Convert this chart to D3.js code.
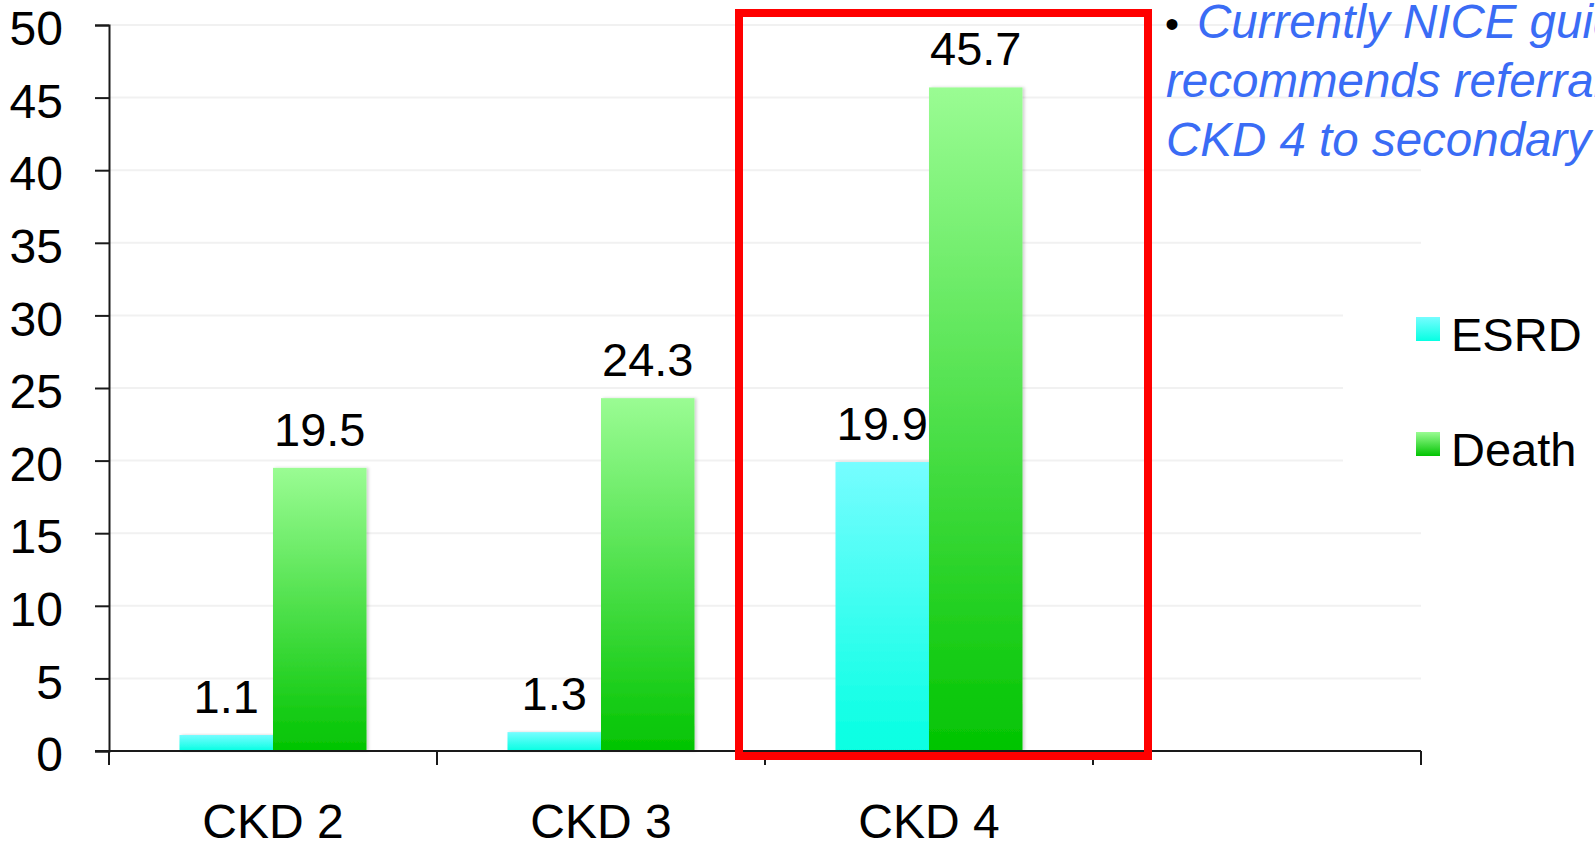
<!DOCTYPE html>
<html>
<head>
<meta charset="utf-8">
<script src="https://cdn.jsdelivr.net/npm/d3@7"></script>
<style>
  html, body { margin: 0; padding: 0; background: #ffffff; overflow: hidden; }
  svg { display: block; }
  text { font-family: "Liberation Sans", Arial, sans-serif; }
</style>
</head>
<body>
<svg id="chart" width="1595" height="845"></svg>
<script>
// ---- data ----
const categories = ["CKD 2", "CKD 3", "CKD 4", ""];
const seriesNames = ["ESRD", "Death"];
const esrdValues = [1.1, 1.3, 19.9];
const deathValues = [19.5, 24.3, 45.7];
const yTicks = [0, 5, 10, 15, 20, 25, 30, 35, 40, 45, 50];
const noteLines = ["Currently NICE guidance", "recommends referral of", "CKD 4 to secondary care"];
const highlightCategory = "CKD 4";

// ---- layout ----
const W = 1595, H = 845;
const plotLeft = 109, plotRight = 1421, plotTop = 25, plotBottom = 751;
const svg = d3.select("#chart");

const x = d3.scaleBand().domain(categories).range([plotLeft, plotRight]).paddingInner(0).paddingOuter(0);
const xs = d3.scaleBand().domain(seriesNames).range([0, x.bandwidth()]).paddingInner(0).paddingOuter(0.754);
const y = d3.scaleLinear().domain([0, 50]).range([plotBottom, plotTop]);

// gradients & shadow
const defs = svg.append("defs");
const grads = {
  ESRD: ["#76fdff", "#06ffe2"],
  Death: ["#9afc93", "#02c402"]
};
Object.entries(grads).forEach(([k, c]) => {
  const g = defs.append("linearGradient").attr("id", "g-" + k)
    .attr("x1", 0).attr("y1", 0).attr("x2", 0).attr("y2", 1);
  g.append("stop").attr("offset", "0%").attr("stop-color", c[0]);
  g.append("stop").attr("offset", "100%").attr("stop-color", c[1]);
});
const f = defs.append("filter").attr("id", "shadow").attr("x", "-10%").attr("y", "-10%").attr("width", "130%").attr("height", "120%");
f.append("feDropShadow").attr("dx", 2).attr("dy", 0).attr("stdDeviation", 1.5)
  .attr("flood-color", "#000").attr("flood-opacity", 0.18);

// gridlines
svg.append("g").selectAll("line").data(yTicks.filter(v => v > 0)).join("line")
  .attr("x1", plotLeft).attr("x2", plotRight)
  .attr("y1", d => y(d)).attr("y2", d => y(d))
  .attr("stroke", "#f1f1f1").attr("stroke-width", 2);

// legend background (covers gridlines)
const legendX = 1343;
svg.append("rect").attr("x", legendX).attr("y", y(33)).attr("width", W - legendX)
  .attr("height", y(17) - y(33)).attr("fill", "#ffffff");

// data rows
const rows = categories.slice(0, esrdValues.length).map((c, i) => ({
  cat: c, values: [{ s: "ESRD", v: esrdValues[i] }, { s: "Death", v: deathValues[i] }]
}));

const gBars = svg.append("g");
rows.forEach(r => {
  r.values.forEach(d => {
    gBars.append("rect")
      .attr("x", x(r.cat) + xs(d.s))
      .attr("y", y(d.v))
      .attr("width", xs.bandwidth())
      .attr("height", y(0) - y(d.v))
      .attr("fill", "url(#g-" + d.s + ")")
      .attr("filter", "url(#shadow)");
  });
});
const gLabels = svg.append("g");
rows.forEach(r => {
  r.values.forEach(d => {
    gLabels.append("text")
      .attr("x", x(r.cat) + xs(d.s) + xs.bandwidth() / 2)
      .attr("y", y(d.v) - 22)
      .attr("text-anchor", "middle")
      .attr("font-size", 47)
      .attr("fill", "#000")
      .text(d.v.toFixed(1));
  });
});

// y axis
const yAxis = d3.axisLeft(y).tickValues(yTicks).tickSize(14).tickSizeOuter(14).tickPadding(32);
const gy = svg.append("g").attr("transform", `translate(${plotLeft},0)`).call(yAxis);
gy.select(".domain").attr("stroke", "#1a1a1a").attr("stroke-width", 2);
gy.selectAll(".tick line").attr("stroke", "#1a1a1a").attr("stroke-width", 2);
gy.selectAll(".tick text").attr("font-size", 48).attr("fill", "#000").attr("dy", "0.41em")
  .style("font-family", '"Liberation Sans", Arial, sans-serif');

// x axis
svg.append("line").attr("x1", plotLeft - 14).attr("x2", plotRight).attr("y1", y(0)).attr("y2", y(0))
  .attr("stroke", "#1a1a1a").attr("stroke-width", 2);
const boundaries = categories.map(c => x(c)).concat([x(categories[categories.length - 1]) + x.bandwidth()]);
svg.append("g").selectAll("line").data(boundaries).join("line")
  .attr("x1", d => d).attr("x2", d => d).attr("y1", y(0)).attr("y2", y(0) + 14)
  .attr("stroke", "#1a1a1a").attr("stroke-width", 2);
svg.append("g").selectAll("text").data(categories.filter(c => c !== "")).join("text")
  .attr("x", d => x(d) + x.bandwidth() / 2)
  .attr("y", 838)
  .attr("text-anchor", "middle")
  .attr("font-size", 48)
  .attr("fill", "#000")
  .text(d => d);

// legend
const legend = svg.append("g");
seriesNames.forEach((s, i) => {
  const ly = 317 + i * 115;
  legend.append("rect").attr("x", 1416).attr("y", ly).attr("width", 24).attr("height", 24)
    .attr("fill", "url(#g-" + s + ")");
  legend.append("text").attr("x", 1451).attr("y", ly + 34).attr("font-size", 47).attr("fill", "#000").text(s);
});

// highlight box around CKD 4
svg.append("rect")
  .attr("x", x(highlightCategory) - 26)
  .attr("y", y(50) - 12)
  .attr("width", x.bandwidth() + 26 + 55)
  .attr("height", y(0) - y(50) + 12 + 5)
  .attr("fill", "none")
  .attr("stroke", "#ff0000")
  .attr("stroke-width", 8);

// note text
const note = svg.append("g");
note.append("text").attr("x", 1165).attr("y", 38).attr("font-size", 40).attr("fill", "#000").text("•");
noteLines.forEach((t, i) => {
  note.append("text")
    .attr("x", i === 0 ? 1197 : 1166)
    .attr("y", 38 + i * 59)
    .attr("font-size", 47.5)
    .attr("font-style", "italic")
    .attr("fill", "#3a6cf5")
    .text(t);
});
</script>
</body>
</html>
